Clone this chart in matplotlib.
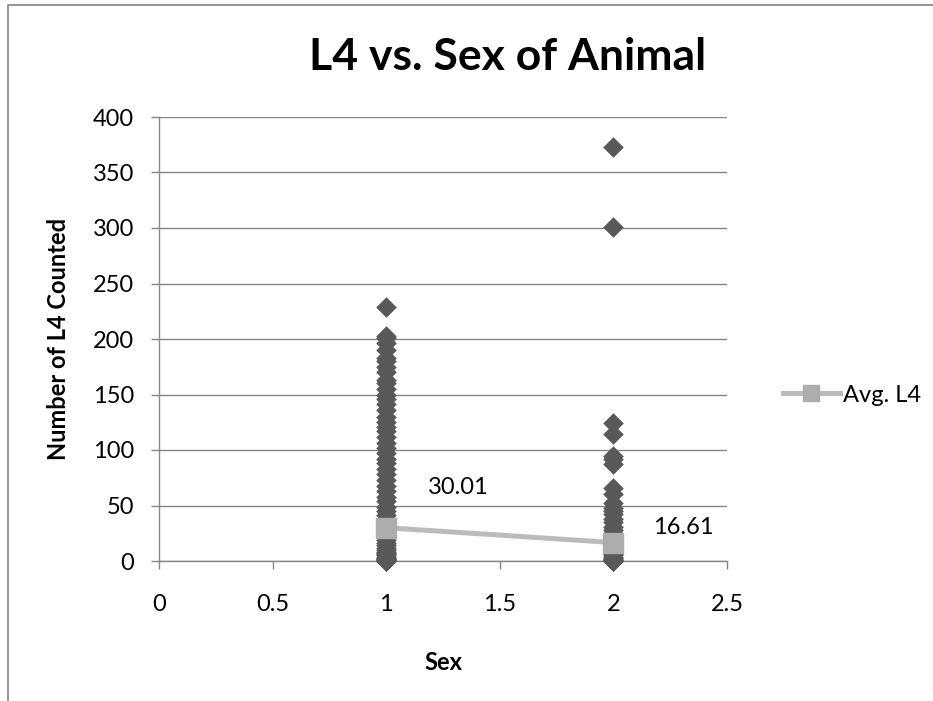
import matplotlib.pyplot as plt
from matplotlib.lines import Line2D

# values
sex1_l4 = [229, 203, 201, 196, 190, 183, 180, 175, 170, 163, 160, 155, 150,
           146, 141, 136, 130, 125, 121, 117, 112, 106, 102, 97, 92, 88, 83,
           78, 73, 68, 63, 58, 54, 49, 45, 41, 38, 35, 32, 28, 25, 22, 19,
           16, 14, 12, 10, 8, 7, 6, 5, 4, 3, 2, 2, 1, 1, 0, 0, 0]
sex2_l4 = [373, 301, 124, 114, 95, 92, 87, 66, 60, 52, 48, 45, 42, 38, 35,
           31, 28, 25, 22, 20, 18, 15, 13, 11, 9, 7, 6, 5, 4, 3, 2, 1, 1,
           0, 0, 0]
avg_sex = [1, 2]
avg_l4 = [30.01, 16.61]
avg_labels = ["30.01", "16.61"]

x_ticks = [0, 0.5, 1, 1.5, 2, 2.5]
x_tick_labels = ["0", "0.5", "1", "1.5", "2", "2.5"]
y_ticks = [0, 50, 100, 150, 200, 250, 300, 350, 400]

plt.rcParams['font.family'] = ['Lato', 'DejaVu Sans']

fig = plt.figure(figsize=(9.33, 7.01), dpi=100)
ax = fig.add_axes([159 / 933, 1 - 561 / 701, 568 / 933, 444 / 701])

grid_col = '#868686'

# scatter points
ax.scatter([1] * len(sex1_l4), sex1_l4, marker='D', s=110, color='#595959',
           linewidths=0, zorder=3, clip_on=False)
ax.scatter([2] * len(sex2_l4), sex2_l4, marker='D', s=110, color='#595959',
           linewidths=0, zorder=3, clip_on=False)

# average line
ax.plot(avg_sex, avg_l4, color='#BBBBBB', lw=3.6, marker='s', ms=14,
        mfc='#ADADAD', mec='#ADADAD', zorder=4, label='Avg. L4',
        clip_on=False)

ax.annotate(avg_labels[0], (avg_sex[0], avg_l4[0]), xytext=(52, 29),
            textcoords='offset points', ha='center', va='center', fontsize=17)
ax.annotate(avg_labels[1], (avg_sex[1], avg_l4[1]), xytext=(50, 11),
            textcoords='offset points', ha='center', va='center', fontsize=17)

ax.set_xlim(0, 2.5)
ax.set_ylim(0, 400)
ax.set_xticks(x_ticks)
ax.set_xticklabels(x_tick_labels)
ax.set_yticks(y_ticks)

ax.yaxis.grid(True, color=grid_col, lw=1.0)
ax.set_axisbelow(True)
for side in ['top', 'right']:
    ax.spines[side].set_visible(False)
for side in ['left', 'bottom']:
    ax.spines[side].set_color(grid_col)
    ax.spines[side].set_linewidth(1.0)

ax.tick_params(axis='both', colors=grid_col, length=6, width=1.0,
               labelcolor='black', labelsize=17)
ax.tick_params(axis='x', pad=18)
ax.tick_params(axis='y', pad=12)

ax.set_xlabel('Sex', fontsize=17, fontweight='bold', labelpad=26)
ax.set_ylabel('Number of L4 Counted', fontsize=17, fontweight='bold',
              labelpad=16)

fig.text(508 / 933, 1 - 57 / 701, 'L4 vs. Sex of Animal', ha='center',
         va='center', fontsize=32, fontweight='bold')

fig.legend(loc='center left', bbox_to_anchor=(783 / 933, 1 - 395 / 701),
           frameon=False, fontsize=17, handlelength=2.4, handletextpad=0.15,
           borderpad=0, borderaxespad=0, markerscale=0.85)

# chart area border (top and left)
fig.add_artist(Line2D([8 / 933, 8 / 933, 1], [0, 1 - 5 / 701, 1 - 5 / 701],
                      transform=fig.transFigure, color='#8C8C8C', lw=1.3))

plt.savefig('out.png', dpi=100)
